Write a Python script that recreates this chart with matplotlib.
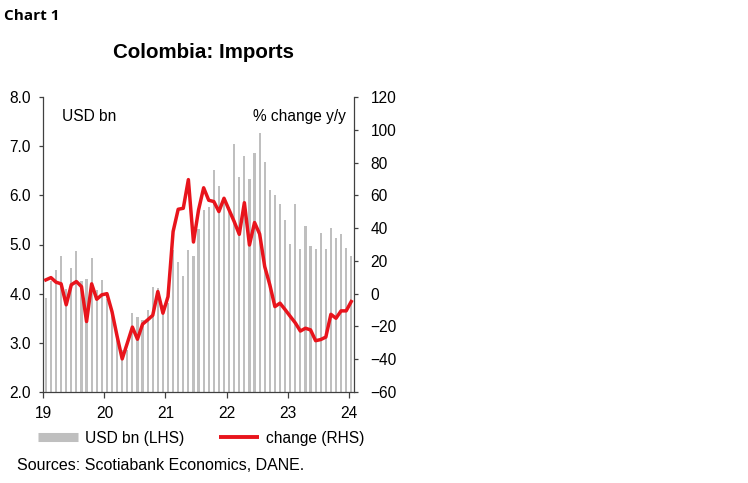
import matplotlib
matplotlib.use("Agg")
import matplotlib.pyplot as plt
from matplotlib.lines import Line2D
import numpy as np

plt.rcParams['font.family'] = ['Liberation Sans', 'DejaVu Sans']

# Monthly imports, USD bn, Jan 2019 - Jan 2024
imports_usd_bn = [
    3.91, 4.25, 4.49, 4.76, 4.10, 4.52, 4.87, 4.26, 4.29, 4.72, 4.07, 4.28,   # 2019
    3.89, 3.60, 3.15, 2.86, 2.86, 3.61, 3.53, 3.47, 3.66, 4.14, 4.12, 3.77,   # 2020
    3.82, 4.89, 4.65, 4.35, 4.89, 4.77, 5.31, 5.70, 5.76, 6.52, 6.18, 5.97,   # 2021
    5.77, 7.04, 6.37, 6.79, 6.34, 6.87, 7.26, 6.67, 6.10, 6.01, 5.82, 5.50,   # 2022
    5.01, 5.82, 4.90, 5.38, 4.97, 4.90, 5.24, 4.90, 5.33, 5.13, 5.22, 4.92,   # 2023
    4.77,                                                                     # 2024
]
# % change y/y
change_yy = [
    8.4, 9.8, 7.0, 6.0, -6.8, 5.4, 7.4, 4.3, -17.0, 6.0, -3.4, -0.7,
    0.0, -11.0, -26.0, -39.8, -30.2, -20.4, -27.8, -18.6, -16.0, -13.2, 1.3, -11.9,
    -1.8, 37.9, 51.5, 52.1, 69.6, 31.5, 51.1, 64.6, 57.0, 56.2, 50.1, 58.2,
    51.1, 44.0, 36.2, 55.5, 29.7, 43.4, 36.4, 16.5, 5.4, -7.9, -5.8, -9.7,
    -13.8, -17.8, -22.8, -21.1, -22.1, -28.7, -28.0, -26.5, -12.6, -15.0, -10.5, -10.5,
    -4.8,
]
year_labels = ["19", "20", "21", "22", "23", "24"]

n = len(imports_usd_bn)
x = np.arange(n)

FS = 11.2

fig = plt.figure(figsize=(7.48, 4.83), dpi=100)
ax = fig.add_axes([43.3 / 748, 91 / 483, 310.5 / 748, 295 / 483])
ax2 = ax.twinx()

gray = "#BFBFBF"
red = "#E8141C"
spine_col = "#404040"

ax.bar(x, imports_usd_bn, width=0.42, color=gray, zorder=1)
ax.set_ylim(2.0, 8.0)
ax.set_yticks(np.arange(2.0, 8.01, 1.0))
ax.set_yticklabels([f"{v:.1f}" for v in np.arange(2.0, 8.01, 1.0)])
ax.set_xlim(-0.5, n - 0.5)
ax.set_xticks([-0.5 + 12 * k for k in range(len(year_labels))])
ax.set_xticklabels(year_labels)

ax2.plot(x, change_yy, color=red, lw=2.5, solid_joinstyle="round", zorder=3)
ax2.set_ylim(-60, 120)
ax2.set_yticks(np.arange(-60, 121, 20))

for a in (ax, ax2):
    a.spines["top"].set_visible(False)
    for s in ("left", "right", "bottom"):
        a.spines[s].set_color(spine_col)
        a.spines[s].set_linewidth(0.9)
    a.tick_params(colors="black", labelsize=FS, length=3, width=0.9, color=spine_col)
ax.spines["right"].set_visible(False)
ax2.spines["left"].set_visible(False)
ax2.spines["bottom"].set_visible(False)
ax.tick_params(axis="y", pad=6)
ax.tick_params(axis="x", pad=6, length=4)
ax2.tick_params(axis="y", pad=9)

ax.text(0.06, 0.96, "USD bn", transform=ax.transAxes, fontsize=FS, va="top", ha="left")
ax.text(0.975, 0.96, "% change y/y", transform=ax.transAxes, fontsize=FS, va="top", ha="right")

fig.text(204 / 748, 1 - 53 / 483, "Colombia: Imports", fontsize=14.8, fontweight="bold",
         ha="center", va="center")
fig.text(4 / 748, 1 - 16 / 483, "Chart 1", fontsize=11, fontweight="bold",
         ha="left", va="center", family=["Open Sans", "DejaVu Sans"])

handles = [Line2D([0], [0], color=gray, lw=6.5, solid_capstyle="butt"),
           Line2D([0], [0], color=red, lw=2.8, solid_capstyle="butt")]
fig.legend(handles, ["USD bn (LHS)", "change (RHS)"], loc="center left",
           bbox_to_anchor=(24 / 748, 1 - 438 / 483), ncol=2, frameon=False,
           fontsize=FS, handlelength=2.6, handletextpad=0.45, columnspacing=2.2)

fig.text(17 / 748, 1 - 465 / 483, "Sources: Scotiabank Economics, DANE.", fontsize=11.5,
         ha="left", va="center")

fig.savefig("out.png", dpi=100)
